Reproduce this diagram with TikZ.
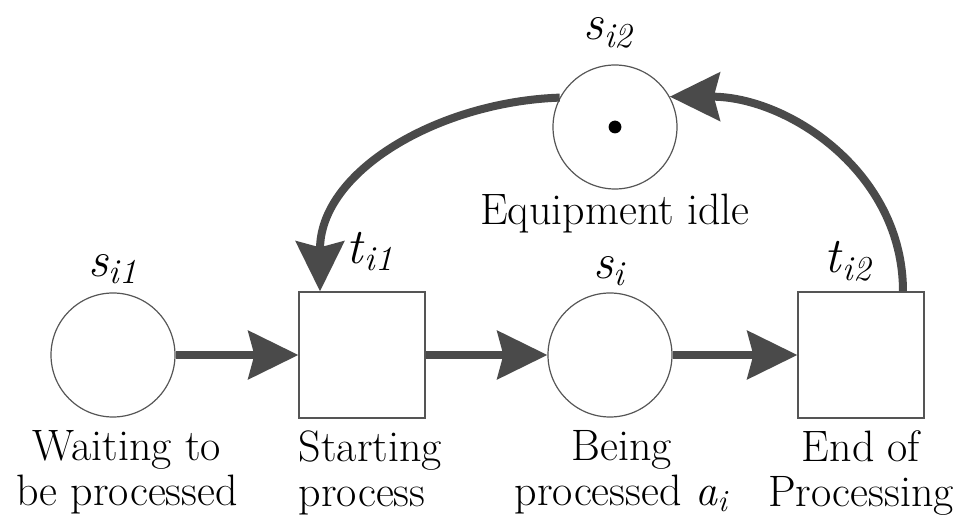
\documentclass[tikz,border=0pt]{standalone}
\usepackage{tikz}
\usetikzlibrary{positioning,calc,arrows.meta}
\definecolor{NetLine}{HTML}{555555}
\definecolor{NetArc}{HTML}{4A4A4A}

\begin{document}
\begin{tikzpicture}[x=0.5pt,y=0.5pt,
    place/.style={circle,draw=NetLine,line width=0.6pt,minimum size=62pt,inner sep=0pt},
    trans/.style={rectangle,draw=NetLine,line width=0.6pt,minimum size=63pt,inner sep=0pt},
    flow/.style={NetArc,line width=4pt,-{Stealth[length=25pt,width=24pt,inset=3pt]}},
    netname/.style={font=\fontsize{25}{28}\selectfont,inner sep=0pt},
    desc/.style={font=\fontsize{22}{22.5}\selectfont,align=center,inner sep=0pt}]
        \useasboundingbox (0,0) rectangle (971,525);
        % places and transitions
        \node[place] (si1) at (113,170) {};
        \node[trans] (ti1) at (362,170) {};
        \node[place] (si) at (610,170) {};
        \node[trans] (ti2) at (861,170) {};
        \node[place] (si2) at (615,398) {};
        \fill[black] (si2) circle (3.2pt);
        % names
        \node[netname,above=4pt of si1] (si1-name) {\textit{s}\textsubscript{\textit{i1}}};
        \node[netname,above=10pt of ti1,xshift=4pt] (ti1-name) {\textit{t}\textsubscript{\textit{i1}}};
        \node[netname,above=3pt of si] (si-name) {\textit{s}\textsubscript{\textit{i}}};
        \node[netname,above=5pt of ti2,xshift=-6pt] (ti2-name) {\textit{t}\textsubscript{\textit{i2}}};
        \node[netname,above=8pt of si2,xshift=-3pt] (si2-name) {\textit{s}\textsubscript{\textit{i2}}};
        % descriptions
        \node[desc,below=6pt of si1,xshift=7pt] (si1-desc) {Waiting to\\be processed};
        \node[desc,align=left,anchor=north west] (ti1-desc) at ([yshift=-6pt]ti1.south west) {Starting\\process};
        \node[desc,below=6pt of si,xshift=6pt] (si-desc) {Being\\processed \textit{a}\textsubscript{\textit{i}}};
        \node[desc,below=6pt of ti2] (ti2-desc) {End of\\Processing};
        \node[desc,below=2pt of si2] (si2-desc) {Equipment idle};
        % arcs
        \draw[flow] (si1) -- (ti1);
        \draw[flow] (ti1) -- (si);
        \draw[flow] (si) -- (ti2);
        \draw[flow] ([xshift=21pt]ti2.north) to[out=90,in=0] (si2.29);
        \draw[flow] (si2.152) to[out=182,in=90] ([xshift=-21pt]ti1.north);
\end{tikzpicture}
\end{document}
